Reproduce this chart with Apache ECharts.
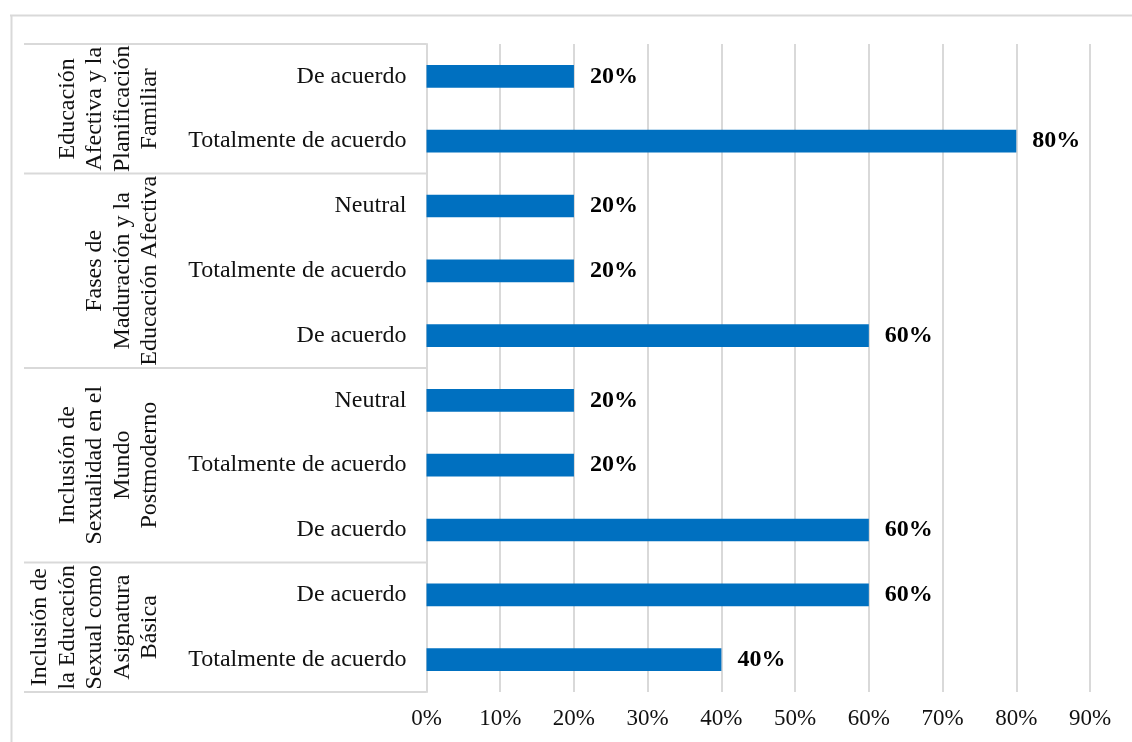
<!DOCTYPE html>
<html>
<head>
<meta charset="utf-8">
<script src="https://cdn.jsdelivr.net/npm/echarts@6/dist/echarts.min.js"></script>
<style>
html,body{margin:0;padding:0;background:#fff;}
#c{width:1132px;height:742px;}
</style>
</head>
<body>
<div id="c"></div>
<script>
// ---- data (top to bottom) ----
var groupNames = [
  'Educación\nAfectiva y la\nPlanificación\nFamiliar',
  'Fases de\nMaduración y la\nEducación Afectiva',
  'Inclusión de\nSexualidad en el\nMundo\nPostmoderno',
  'Inclusión de\nla Educación\nSexual como\nAsignatura\nBásica'
];
var groupSizes = [2, 3, 3, 2];
var categories = [
  'De acuerdo', 'Totalmente de acuerdo',
  'Neutral', 'Totalmente de acuerdo', 'De acuerdo',
  'Neutral', 'Totalmente de acuerdo', 'De acuerdo',
  'De acuerdo', 'Totalmente de acuerdo'
];
var values = [20, 80, 20, 20, 60, 20, 20, 60, 60, 40];
var xTicks = [0, 10, 20, 30, 40, 50, 60, 70, 80, 90];

(function () {
var FONT = "'Liberation Serif','Times New Roman',serif";
var GRID = '#d9d9d9';
var chart = echarts.init(document.getElementById('c'), null, {renderer: 'canvas'});

var option = {
  animation: false,
  backgroundColor: '#fff',
  grid: {left: 426.5, right: 42, top: 44, bottom: 50, containLabel: false},
  xAxis: {
    type: 'value', min: xTicks[0], max: xTicks[xTicks.length - 1], interval: 10,
    axisLine: {show: false}, axisTick: {show: false},
    splitLine: {show: true, lineStyle: {color: GRID, width: 2}},
    axisLabel: {formatter: '{value}%', fontFamily: FONT, fontSize: 23, color: '#111', margin: 15}
  },
  yAxis: {
    type: 'category', inverse: true, data: categories,
    axisLine: {show: true, lineStyle: {color: GRID, width: 2}},
    axisTick: {show: false},
    axisLabel: {fontFamily: FONT, fontSize: 24, color: '#111', margin: 20}
  },
  series: [{
    type: 'bar', data: values, barWidth: '35%',
    itemStyle: {color: '#0070C0'},
    label: {show: true, position: 'right', distance: 16, formatter: '{c}%',
      fontFamily: FONT, fontSize: 24, fontWeight: 'bold', color: '#000'}
  }]
};
chart.setOption(option);

// group labels and category box lines
var g = [];
var p0 = chart.convertToPixel({yAxisIndex: 0}, 0);
var p1 = chart.convertToPixel({yAxisIndex: 0}, 1);
var band = p1 - p0;
var axisX = chart.convertToPixel({xAxisIndex: 0}, 0);
var boxLeft = 24;
var idx = 0;
var boundaries = [p0 - band / 2];
for (var i = 0; i < groupSizes.length; i++) {
  var yTop = chart.convertToPixel({yAxisIndex: 0}, idx) - band / 2;
  var yBot = chart.convertToPixel({yAxisIndex: 0}, idx + groupSizes[i] - 1) + band / 2;
  boundaries.push(yBot);
  var nLines = groupNames[i].split('\n').length;
  var cx = 150 - (nLines - 1) * 27.5 / 2;
  g.push({
    type: 'text', x: cx, y: (yTop + yBot) / 2, rotation: Math.PI / 2,
    style: {text: groupNames[i], font: '24px ' + FONT, fill: '#111',
      align: 'center', verticalAlign: 'middle', lineHeight: 27.5}
  });
  idx += groupSizes[i];
}
boundaries.forEach(function (y) {
  g.push({type: 'line', shape: {x1: boxLeft, y1: y, x2: axisX, y2: y},
    style: {stroke: GRID, lineWidth: 2}});
});
// outer frame
g.push({type: 'line', shape: {x1: 10, y1: 15.5, x2: 1132, y2: 15.5}, style: {stroke: GRID, lineWidth: 2}});
g.push({type: 'line', shape: {x1: 11.5, y1: 15, x2: 11.5, y2: 742}, style: {stroke: GRID, lineWidth: 2}});
chart.setOption({graphic: g});
})();
</script>
</body>
</html>
